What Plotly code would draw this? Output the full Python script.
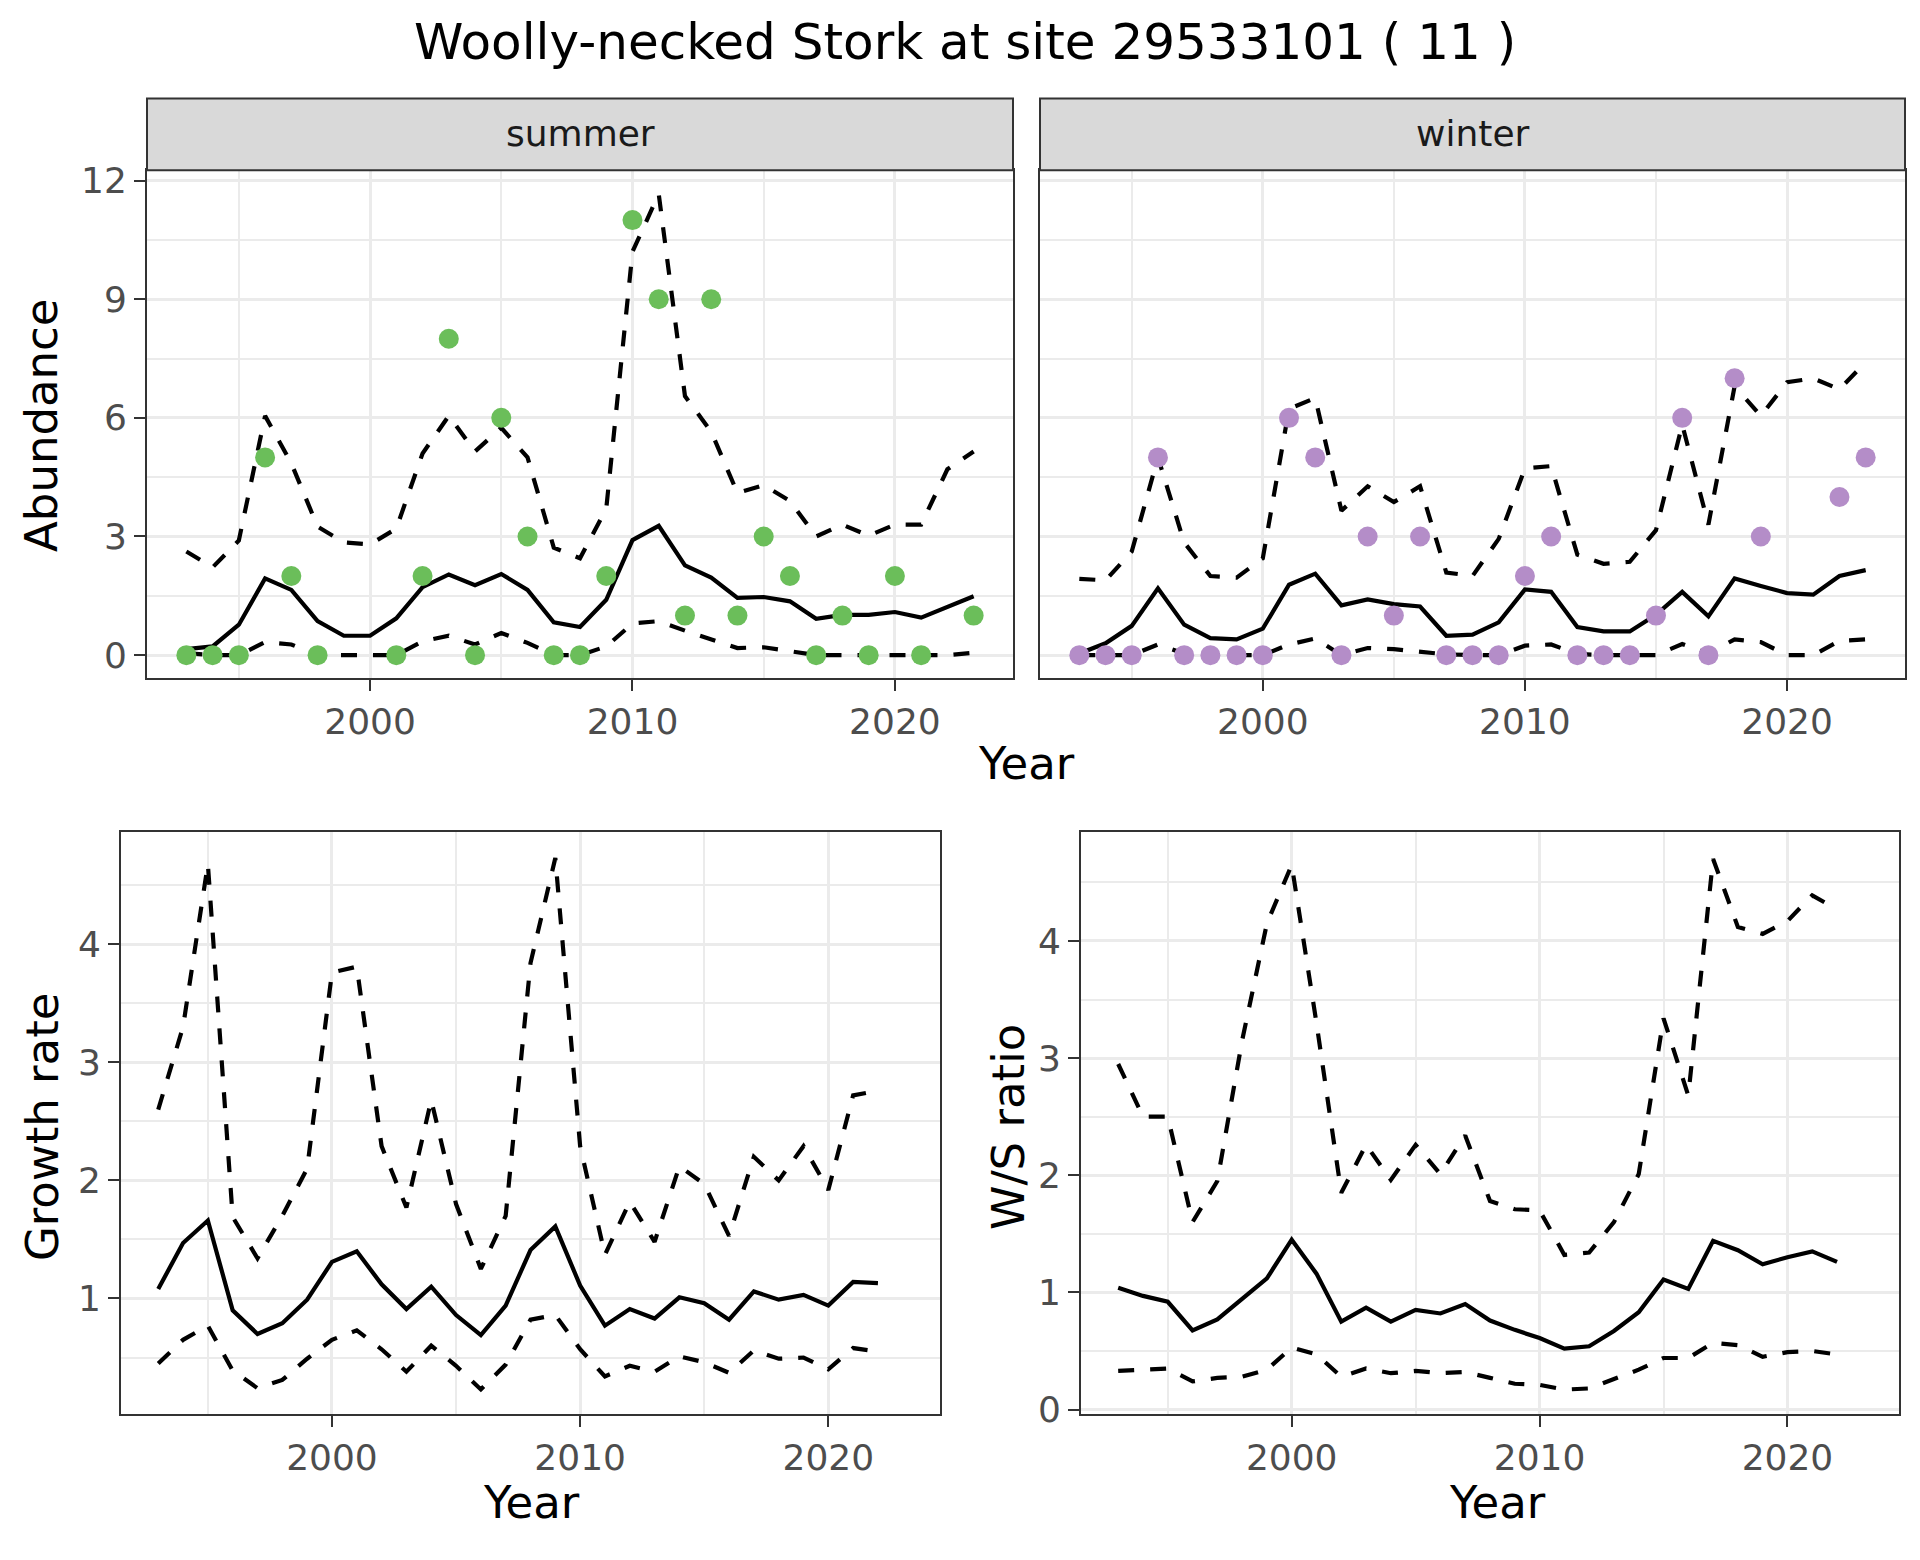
import plotly.graph_objects as go

# ---------------- data ----------------
years = list(range(1993, 2024))          # 1993..2023
years_b = list(range(1993, 2023))        # 1993..2022

summer_obs = [0, 0, 0, 5, 2, 0, None, None, 0, 2, 8, 0, 6, 3, 0, 0, 2, 11, 9, 1,
              9, 1, 3, 2, 0, 1, 0, 2, 0, None, 1]
summer_mid = [0.15, 0.22, 0.77, 1.94, 1.65, 0.86, 0.49, 0.49, 0.93, 1.72, 2.04, 1.77,
              2.05, 1.65, 0.83, 0.71, 1.40, 2.91, 3.27, 2.27, 1.96, 1.45, 1.47, 1.36,
              0.92, 1.02, 1.02, 1.09, 0.95, 1.22, 1.49]
summer_hi = [2.62, 2.22, 2.90, 6.05, 4.85, 3.25, 2.85, 2.80, 3.20, 5.10, 6.05, 5.15,
             5.75, 5.00, 2.72, 2.45, 3.70, 10.2, 11.66, 6.55, 5.65, 4.10, 4.30, 3.90,
             3.00, 3.30, 3.02, 3.30, 3.30, 4.70, 5.15]
summer_lo = [0.05, 0.0, 0.0, 0.33, 0.27, 0.0, 0.0, 0.0, 0.0, 0.35, 0.49, 0.27,
             0.56, 0.31, 0.0, 0.0, 0.22, 0.80, 0.86, 0.62, 0.40, 0.18, 0.20, 0.09,
             0.0, 0.0, 0.0, 0.0, 0.0, 0.0, 0.06]

winter_obs = [0, 0, 0, 5, 0, 0, 0, 0, 6, 5, 0, 3, 1, 3, 0, 0, 0, 2, 3, 0,
              0, 0, 1, 6, 0, 7, 3, None, None, 4, 5]
winter_mid = [0.04, 0.30, 0.74, 1.69, 0.77, 0.43, 0.40, 0.67, 1.78, 2.06, 1.26, 1.41,
              1.29, 1.23, 0.49, 0.52, 0.83, 1.66, 1.60, 0.71, 0.60, 0.60, 1.02, 1.60,
              0.98, 1.94, 1.75, 1.57, 1.53, 2.00, 2.15]
winter_hi = [1.93, 1.89, 2.62, 5.00, 2.85, 2.00, 1.96, 2.45, 6.23, 6.50, 3.65, 4.27,
             3.87, 4.27, 2.09, 2.00, 2.94, 4.72, 4.78, 2.54, 2.31, 2.36, 3.16, 5.83,
             3.30, 6.80, 6.05, 6.90, 7.00, 6.72, 7.41]
winter_lo = [0.0, 0.0, 0.0, 0.27, 0.04, 0.0, 0.0, 0.0, 0.27, 0.42, 0.0, 0.18,
             0.15, 0.09, 0.02, 0.0, 0.0, 0.24, 0.27, 0.03, 0.0, 0.0, 0.0, 0.28,
             0.04, 0.40, 0.33, 0.0, 0.0, 0.36, 0.40]

growth_mid = [1.08, 1.47, 1.66, 0.90, 0.70, 0.79, 0.99, 1.31, 1.40, 1.12, 0.91, 1.10,
              0.86, 0.69, 0.94, 1.41, 1.61, 1.11, 0.77, 0.91, 0.83, 1.01, 0.96, 0.82,
              1.06, 0.99, 1.03, 0.94, 1.14, 1.13]
growth_hi = [2.60, 3.30, 4.68, 1.69, 1.34, 1.70, 2.10, 3.76, 3.81, 2.29, 1.77, 2.68,
             1.80, 1.25, 1.70, 3.84, 4.73, 2.29, 1.37, 1.82, 1.48, 2.12, 1.97, 1.53,
             2.20, 2.00, 2.29, 1.92, 2.72, 2.76]
growth_lo = [0.45, 0.65, 0.77, 0.39, 0.24, 0.31, 0.49, 0.65, 0.73, 0.57, 0.38, 0.60,
             0.43, 0.23, 0.44, 0.82, 0.86, 0.57, 0.34, 0.43, 0.38, 0.51, 0.46, 0.37,
             0.56, 0.49, 0.50, 0.40, 0.58, 0.55]

ratio_mid = [1.04, 0.97, 0.92, 0.675, 0.77, 0.95, 1.12, 1.45, 1.16, 0.75, 0.87, 0.75,
             0.85, 0.82, 0.90, 0.76, 0.68, 0.61, 0.52, 0.54, 0.67, 0.83, 1.11, 1.03,
             1.44, 1.36, 1.24, 1.30, 1.35, 1.26]
ratio_hi = [2.95, 2.50, 2.50, 1.60, 1.95, 3.15, 4.15, 4.65, 3.30, 1.85, 2.26, 1.96,
            2.26, 2.01, 2.34, 1.78, 1.71, 1.70, 1.32, 1.34, 1.60, 2.01, 3.34, 2.68,
            4.70, 4.12, 4.06, 4.17, 4.39, 4.27]
ratio_lo = [0.33, 0.34, 0.35, 0.24, 0.27, 0.28, 0.34, 0.53, 0.47, 0.28, 0.35, 0.31,
            0.33, 0.31, 0.32, 0.27, 0.22, 0.21, 0.17, 0.18, 0.26, 0.34, 0.44, 0.44,
            0.57, 0.55, 0.45, 0.49, 0.50, 0.47]

title_text = "Woolly-necked Stork at site 29533101 ( 11 )"
facet_labels = ["summer", "winter"]
green = "#6BBE5A"
purple = "#B48DC8"

# ---------------- figure ----------------
W, H = 1920, 1560
FONT = "DejaVu Sans"
LW = 4.2
DASH = "16px,16px"

fig = go.Figure()


def add_lines(x, mid, hi, lo, xa, ya):
    fig.add_trace(go.Scatter(x=x, y=hi, mode="lines", xaxis=xa, yaxis=ya,
                             line=dict(color="black", width=LW, dash=DASH), showlegend=False))
    fig.add_trace(go.Scatter(x=x, y=lo, mode="lines", xaxis=xa, yaxis=ya,
                             line=dict(color="black", width=LW, dash=DASH), showlegend=False))
    fig.add_trace(go.Scatter(x=x, y=mid, mode="lines", xaxis=xa, yaxis=ya,
                             line=dict(color="black", width=LW), showlegend=False))


add_lines(years, summer_mid, summer_hi, summer_lo, "x", "y")
fig.add_trace(go.Scatter(x=years, y=summer_obs, mode="markers", xaxis="x", yaxis="y",
                         marker=dict(color=green, size=20), showlegend=False))
add_lines(years, winter_mid, winter_hi, winter_lo, "x2", "y2")
fig.add_trace(go.Scatter(x=years, y=winter_obs, mode="markers", xaxis="x2", yaxis="y2",
                         marker=dict(color=purple, size=20), showlegend=False))
add_lines(years_b, growth_mid, growth_hi, growth_lo, "x3", "y3")
add_lines(years_b, ratio_mid, ratio_hi, ratio_lo, "x4", "y4")


def px_x(a, b):
    return [a / W, b / W]


def px_y(top, bot):
    return [1 - bot / H, 1 - top / H]


GRID_MAJ = "#EBEBEB"
BORDER = "#333333"
TICKFONT = dict(family=FONT, size=36, color="#4D4D4D")


def axis_common():
    return dict(showline=True, mirror=True, linecolor=BORDER, linewidth=2,
                ticks="outside", ticklen=11, tickwidth=2, tickcolor=BORDER,
                showgrid=True, gridcolor=GRID_MAJ, gridwidth=3.3,
                zeroline=False, tickfont=TICKFONT, fixedrange=True)


def xaxis(domain, anchor):
    d = axis_common()
    d.update(domain=domain, anchor=anchor, range=[1991.5, 2024.5],
             tickvals=[2000, 2010, 2020], ticktext=["2000", "2010", "2020"],
             minor=dict(tickvals=[1995, 2005, 2015], showgrid=True,
                        gridcolor=GRID_MAJ, gridwidth=1.7, ticks=""))
    return d


def yaxis(domain, anchor, rng, vals, minors, show_labels=True):
    d = axis_common()
    d.update(domain=domain, anchor=anchor, range=rng, tickvals=vals,
             ticktext=[str(v) for v in vals],
             minor=dict(tickvals=minors, showgrid=True, gridcolor=GRID_MAJ,
                        gridwidth=1.7, ticks=""))
    if not show_labels:
        d.update(showticklabels=False, ticks="")
    return d


top_y = px_y(163, 679)
bl_y = px_y(836, 1428)

fig.update_layout(
    xaxis=xaxis(px_x(147, 1013), "y"),
    yaxis=yaxis(top_y, "x", [-0.57, 12.26], [0, 3, 6, 9, 12], [1.5, 4.5, 7.5, 10.5]),
    xaxis2=xaxis(px_x(1040, 1905), "y2"),
    yaxis2=yaxis(top_y, "x2", [-0.57, 12.26], [0, 3, 6, 9, 12], [1.5, 4.5, 7.5, 10.5],
                 show_labels=False),
    xaxis3=xaxis(px_x(121, 940), "y3"),
    yaxis3=yaxis(bl_y, "x3", [0.02, 4.95], [1, 2, 3, 4], [0.5, 1.5, 2.5, 3.5, 4.5]),
    xaxis4=xaxis(px_x(1081, 1899), "y4"),
    yaxis4=yaxis(bl_y, "x4", [-0.04, 4.93], [0, 1, 2, 3, 4], [0.5, 1.5, 2.5, 3.5, 4.5]),
)

# strips
for (a, b), lab in zip([(147, 1013), (1040, 1905)], facet_labels):
    fig.add_shape(type="rect", xref="paper", yref="paper",
                  x0=a / W, x1=b / W, y0=1 - 163 / H, y1=1 - 90 / H,
                  fillcolor="#D9D9D9", line=dict(color=BORDER, width=2), layer="above")
    fig.add_annotation(x=(a + b) / 2 / W, y=1 - 126 / H, xref="paper", yref="paper",
                       text=lab, showarrow=False, xanchor="center", yanchor="middle",
                       font=dict(family=FONT, size=36, color="#1A1A1A"))

AXT = dict(family=FONT, size=45, color="black")
ann = [
    (title_text, 965, 33, 0, dict(family=FONT, size=50, color="black")),
    ("Year", 1026, 766, 0, AXT),
    ("Year", 531, 1518, 0, AXT),
    ("Year", 1497, 1518, 0, AXT),
    ("Abundance", 42, 423, -90, AXT),
    ("Growth rate", 42, 1136, -90, AXT),
    ("W/S ratio", 1008, 1136, -90, AXT),
]
for txt, x, y, rot, f in ann:
    fig.add_annotation(x=x / W, y=1 - y / H, xref="paper", yref="paper", text=txt,
                       showarrow=False, xanchor="center", yanchor="middle",
                       textangle=rot, font=f, borderpad=0)

fig.update_layout(width=W, height=H, margin=dict(l=0, r=0, t=0, b=0),
                  paper_bgcolor="white", plot_bgcolor="white",
                  font=dict(family=FONT))

fig.write_html("out.html", config={"displayModeBar": False},
               post_script="document.body.style.margin='0px';"
                           "document.body.style.overflow='hidden';")
